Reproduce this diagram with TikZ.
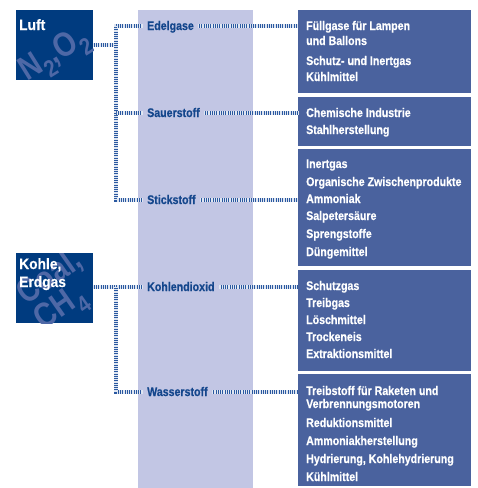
\documentclass[tikz,border=0pt]{standalone}
\usepackage{fontspec}
\usepackage{graphicx}
\setmainfont{Liberation Sans}
\newfontfamily\condfont[FakeStretch=0.85,FakeBold=0.5]{Liberation Sans}
\newfontfamily\boxfont[FakeStretch=0.92,FakeBold=0.5]{Liberation Sans}
\newfontfamily\wmfont[FakeStretch=0.85]{Liberation Sans}
\definecolor{darkbox}{HTML}{003B7F}
\definecolor{medbox}{HTML}{4A629E}
\definecolor{stripecol}{HTML}{C2C6E4}
\definecolor{lblcol}{HTML}{14468C}
\definecolor{wmcol}{HTML}{4E68A6}
\definecolor{hatchcol}{HTML}{2A58A0}
\newcommand{\mysub}[1]{\raisebox{-0.3em}{\scalebox{0.7}{#1}}}
\tikzset{
  srcbox/.style={fill=darkbox, draw=none, minimum width=77pt, minimum height=70pt, inner sep=0pt},
  usebox/.style={fill=medbox, draw=none, minimum width=173pt, inner sep=0pt},
  lbl/.style={font=\condfont\bfseries\fontsize{12.5}{14}\selectfont, text=lblcol, inner xsep=4pt, inner ysep=1pt, text height=10pt, text depth=2pt, anchor=west},
  itm/.style={font=\condfont\bfseries\fontsize{12.5}{14}\selectfont, text=white, inner sep=0pt, anchor=base west},
  srctxt/.style={font=\boxfont\bfseries\fontsize{15}{18}\selectfont, text=white, inner sep=0pt, anchor=base west},
  wm/.style={font=\wmfont\bfseries\fontsize{34}{27}\selectfont, text=wmcol, inner sep=0pt, align=left},
  conn/.style={line width=4.5pt, draw=hatchcol, postaction={draw=white!85!hatchcol, line width=4.5pt, dash pattern=on 0.6pt off 1.2pt}}
}
\begin{document}
\begin{tikzpicture}[x=1pt,y=-1pt]
\useasboundingbox (0,0) rectangle (478,488);
% light stripe
\fill[stripecol] (138,10) rectangle (253,488);
% source boxes
\node[srcbox] (luft) at (54.5,45) {};
\node[srcbox] (kohle) at (54.5,287.5) {};
\begin{scope}
\clip (16,10) rectangle (93,80);
\node[wm, rotate=32] (wm1) at (55,56) {N\mysub{2},O\mysub{2}};
\end{scope}
\begin{scope}
\clip (16,253) rectangle (93,323);
\node[wm, rotate=35] (wm2) at (60,292) {Coal,\\CH\mysub{4}};
\end{scope}
\node[srctxt] (luftt) at (19,30) {Luft};
\node[srctxt] (kohlet1) at (19,269) {Kohle,};
\node[srctxt] (kohlet2) at (19,287) {Erdgas};
% use boxes
\node[usebox, minimum height=83pt] (b1) at (384.5,51.5) {};
\node[usebox, minimum height=49pt] (b2) at (384.5,121.5) {};
\node[usebox, minimum height=117pt] (b3) at (384.5,207.5) {};
\node[usebox, minimum height=101pt] (b4) at (384.5,320.5) {};
\node[usebox, minimum height=112pt] (b5) at (384.5,430) {};
% items
\foreach \yy/\tt [count=\i] in {30/{Füllgase für Lampen}, 45/{und Ballons}, 65/{Schutz- und Inertgas}, 81/{Kühlmittel}}
  \node[itm] (b1t\i) at (306,\yy) {\tt};
\foreach \yy/\tt [count=\i] in {117/{Chemische Industrie}, 134/{Stahlherstellung}}
  \node[itm] (b2t\i) at (306,\yy) {\tt};
\foreach \yy/\tt [count=\i] in {168/{Inertgas}, 186/{Organische Zwischenprodukte}, 203/{Ammoniak}, 220/{Salpetersäure}, 238/{Sprengstoffe}, 256/{Düngemittel}}
  \node[itm] (b3t\i) at (306,\yy) {\tt};
\foreach \yy/\tt [count=\i] in {290/{Schutzgas}, 307/{Treibgas}, 324/{Löschmittel}, 341/{Trockeneis}, 358/{Extraktionsmittel}}
  \node[itm] (b4t\i) at (306,\yy) {\tt};
\foreach \yy/\tt [count=\i] in {395/{Treibstoff für Raketen und}, 408/{Verbrennungsmotoren}, 427/{Reduktionsmittel}, 445/{Ammoniakherstellung}, 463/{Hydrierung, Kohlehydrierung}, 481/{Kühlmittel}}
  \node[itm] (b5t\i) at (306,\yy) {\tt};
% labels
\node[lbl] (edel) at (143,26) {Edelgase};
\node[lbl] (sauer) at (143,113) {Sauerstoff};
\node[lbl] (stick) at (143,200) {Stickstoff};
\node[lbl] (kd) at (143,287) {Kohlendioxid};
\node[lbl] (wasser) at (143,392) {Wasserstoff};
\coordinate (tx) at (116,0);
% connectors
\draw[conn] (luft.east) -- (luft.east -| tx);
\draw[conn] (edel.west) -| (tx |- stick.west) -- (stick.west);
\draw[conn] (sauer.west) -- (sauer.west -| tx);
\draw[conn] (edel.east) -- (edel.east -| b1.west);
\draw[conn] (sauer.east) -- (sauer.east -| b2.west);
\draw[conn] (stick.east) -- (stick.east -| b3.west);
\draw[conn] (kd.west -| kohle.east) -- (kd.west);
\draw[conn] (kd.west -| tx) |- (wasser.west);
\draw[conn] (kd.east) -- (kd.east -| b4.west);
\draw[conn] (wasser.east) -- (wasser.east -| b5.west);
\end{tikzpicture}
\end{document}
